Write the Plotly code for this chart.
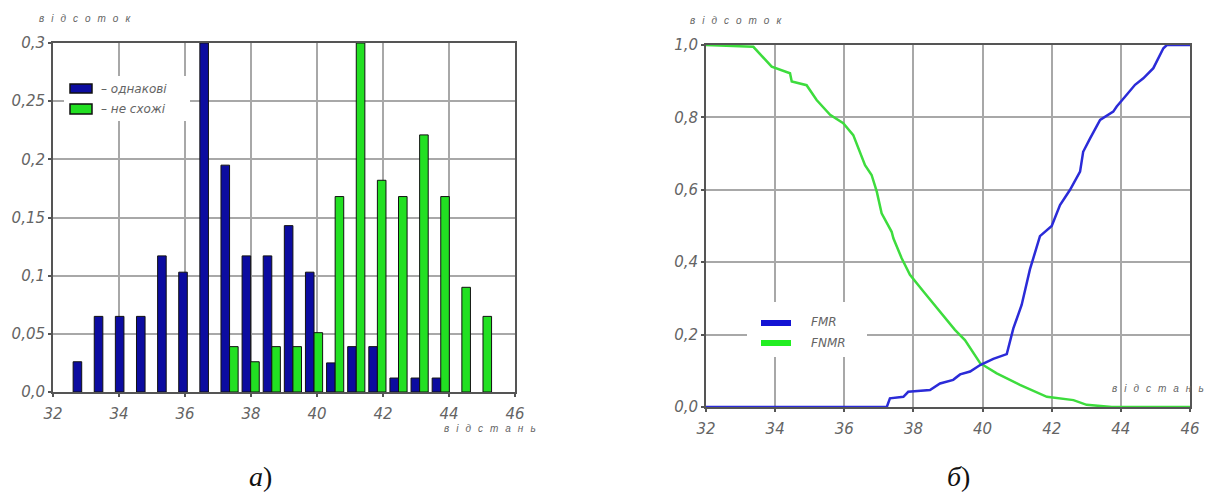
import plotly.graph_objects as go

# ---------------- data ----------------
# left chart (histogram): bin centres and relative frequencies
bin_centers = [32.87, 33.51, 34.15, 34.79, 35.43, 36.07, 36.71, 37.35, 37.99, 38.63,
               39.27, 39.91, 40.55, 41.19, 41.83, 42.47, 43.11, 43.75, 44.39, 45.03]
same_vals = [0.026, 0.065, 0.065, 0.065, 0.117, 0.103, 0.300, 0.195, 0.117, 0.117,
             0.143, 0.103, 0.025, 0.039, 0.039, 0.012, 0.012, 0.012, None, None]
diff_vals = [None, None, None, None, None, None, None, 0.039, 0.026, 0.039,
             0.039, 0.051, 0.168, 0.300, 0.182, 0.168, 0.221, 0.168, 0.090, 0.065]

# right chart: error rate curves
fnmr_x = [32.0, 33.37, 33.9, 34.19, 34.43, 34.48, 34.91, 35.2, 35.59, 35.97, 36.26, 36.6,
          36.79, 36.94, 37.08, 37.37, 37.42, 37.66, 37.9, 38.29, 38.77, 39.2, 39.49, 39.93,
          40.41, 41.08, 41.86, 42.63, 43.01, 43.74, 46.0]
fnmr_y = [1.0, 0.995, 0.94, 0.931, 0.922, 0.899, 0.889, 0.848, 0.807, 0.784, 0.751, 0.668,
          0.641, 0.595, 0.535, 0.484, 0.466, 0.411, 0.365, 0.319, 0.263, 0.213, 0.185, 0.121,
          0.093, 0.061, 0.028, 0.019, 0.006, 0.0, 0.0]
fmr_x = [32.0, 37.23, 37.32, 37.71, 37.85, 38.48, 38.77, 39.15, 39.35, 39.64, 39.93, 40.31,
         40.7, 40.89, 41.13, 41.37, 41.66, 42.0, 42.24, 42.53, 42.82, 42.91, 43.11, 43.4,
         43.78, 43.88, 44.12, 44.41, 44.65, 44.94, 45.23, 45.33, 46.0]
fmr_y = [0.0, 0.0, 0.024, 0.028, 0.042, 0.047, 0.065, 0.075, 0.09, 0.098, 0.116, 0.133,
         0.146, 0.217, 0.282, 0.38, 0.472, 0.5, 0.558, 0.6, 0.65, 0.705, 0.742, 0.793,
         0.816, 0.83, 0.857, 0.89, 0.908, 0.936, 0.991, 1.0, 1.0]

x_ticks = [32, 34, 36, 38, 40, 42, 44, 46]
y1_ticks = [0, 0.05, 0.1, 0.15, 0.2, 0.25, 0.3]
y1_text = ["0,0", "0,05", "0,1", "0,15", "0,2", "0,25", "0,3"]
y2_ticks = [0, 0.2, 0.4, 0.6, 0.8, 1.0]
y2_text = ["0,0", "0,2", "0,4", "0,6", "0,8", "1,0"]

# ---------------- figure ----------------
W, H = 1223, 500
def px(x):
    return x / W
def py(y):
    return 1 - y / H

BLUE_BAR = "#0c0ca0"
GREEN_BAR = "#22e022"
BLUE_LINE = "#2b2bd8"
GREEN_LINE = "#3ddc3d"
TXT = "#646464"
GRID = "#a8a8a8"
AXL = "#555555"
FONT = "DejaVu Sans"

fig = go.Figure()
fig.add_trace(go.Bar(x=bin_centers, y=same_vals, width=0.26, offset=-0.26,
                     marker=dict(color=BLUE_BAR, line=dict(color="#111111", width=1)),
                     xaxis="x", yaxis="y", name="однакові"))
fig.add_trace(go.Bar(x=bin_centers, y=diff_vals, width=0.26, offset=0.0,
                     marker=dict(color=GREEN_BAR, line=dict(color="#111111", width=1)),
                     xaxis="x", yaxis="y", name="не схожі"))
fig.add_trace(go.Scatter(x=fnmr_x, y=fnmr_y, mode="lines",
                         line=dict(color=GREEN_LINE, width=2.5),
                         xaxis="x2", yaxis="y2", name="FNMR"))
fig.add_trace(go.Scatter(x=fmr_x, y=fmr_y, mode="lines",
                         line=dict(color=BLUE_LINE, width=2.5),
                         xaxis="x2", yaxis="y2", name="FMR"))

tickfont = dict(family=FONT, size=15, color=TXT, style="italic")
common_axis = dict(showgrid=True, gridcolor=GRID, gridwidth=1.5, showline=True,
                   linecolor=AXL, linewidth=2, mirror=True, zeroline=False,
                   ticks="outside", ticklen=3, tickwidth=2, tickcolor=AXL,
                   tickfont=tickfont, automargin=False)

fig.update_layout(
    width=W, height=H, margin=dict(l=0, r=0, t=0, b=0, pad=0, autoexpand=False),
    paper_bgcolor="white", plot_bgcolor="white", showlegend=False,
    barmode="overlay",
    xaxis=dict(domain=[px(53), px(515)], range=[32, 46], tickvals=x_ticks,
               anchor="y", ticklabelstandoff=4, **common_axis),
    yaxis=dict(domain=[py(392), py(43)], range=[0, 0.3], tickvals=y1_ticks,
               ticktext=y1_text, anchor="x", **common_axis),
    xaxis2=dict(domain=[px(706), px(1190)], range=[32, 46], tickvals=x_ticks,
                anchor="y2", ticklabelstandoff=4, **common_axis),
    yaxis2=dict(domain=[py(407), py(45)], range=[0, 1.0], tickvals=y2_ticks,
                ticktext=y2_text, anchor="x2", **common_axis),
)

shapes = []
ann = []
small = dict(family="Liberation Sans", size=10, color=TXT, style="italic")
leg = dict(family=FONT, size=12, color=TXT, style="italic")

SP = "\u2002\u2009"
def spaced(word):
    return SP.join(list(word))

# axis captions
ann.append(dict(x=px(37), y=py(18), text=spaced("відсоток"), xanchor="left", yanchor="middle",
                showarrow=False, font=small, xref="paper", yref="paper"))
ann.append(dict(x=px(442), y=py(428), text=spaced("відстань"), xanchor="left", yanchor="middle",
                showarrow=False, font=small, xref="paper", yref="paper"))
ann.append(dict(x=px(688), y=py(20), text=spaced("відсоток"), xanchor="left", yanchor="middle",
                showarrow=False, font=small, xref="paper", yref="paper"))
ann.append(dict(x=px(1110), y=py(388), text=spaced("відстань"), xanchor="left", yanchor="middle",
                showarrow=False, font=small, xref="paper", yref="paper"))

# left legend
shapes.append(dict(type="rect", xref="paper", yref="paper", x0=px(64), x1=px(190),
                   y0=py(76), y1=py(121), fillcolor="white", line=dict(width=0), layer="above"))
shapes.append(dict(type="rect", xref="paper", yref="paper", x0=px(70), x1=px(92),
                   y0=py(84), y1=py(93), fillcolor=BLUE_BAR, line=dict(color="#111", width=1.5),
                   layer="above"))
shapes.append(dict(type="rect", xref="paper", yref="paper", x0=px(70), x1=px(92),
                   y0=py(104), y1=py(114), fillcolor=GREEN_BAR, line=dict(color="#111", width=1.5),
                   layer="above"))
ann.append(dict(x=px(99), y=py(88.5), text="– однакові", xanchor="left", yanchor="middle",
                showarrow=False, font=leg, xref="paper", yref="paper"))
ann.append(dict(x=px(99), y=py(109), text="– не схожі", xanchor="left", yanchor="middle",
                showarrow=False, font=leg, xref="paper", yref="paper"))

# right legend
shapes.append(dict(type="rect", xref="paper", yref="paper", x0=px(747), x1=px(867),
                   y0=py(302), y1=py(357), fillcolor="white", line=dict(width=0), layer="above"))
shapes.append(dict(type="line", xref="paper", yref="paper", x0=px(761), x1=px(791),
                   y0=py(323), y1=py(323), line=dict(color="#1414d4", width=6), layer="above"))
shapes.append(dict(type="line", xref="paper", yref="paper", x0=px(761), x1=px(791),
                   y0=py(343), y1=py(343), line=dict(color="#22ee22", width=6), layer="above"))
ann.append(dict(x=px(809), y=py(322), text="FMR", xanchor="left", yanchor="middle",
                showarrow=False, font=leg, xref="paper", yref="paper"))
ann.append(dict(x=px(809), y=py(343), text="FNMR", xanchor="left", yanchor="middle",
                showarrow=False, font=leg, xref="paper", yref="paper"))

# panel captions
cap = dict(family="Liberation Serif", size=28, color="#111111")
ann.append(dict(x=px(260), y=py(476), text="<i>а</i>)", xanchor="center", yanchor="middle",
                showarrow=False, font=cap, xref="paper", yref="paper"))
ann.append(dict(x=px(958), y=py(476), text="<i>б</i>)", xanchor="center", yanchor="middle",
                showarrow=False, font=cap, xref="paper", yref="paper"))

fig.update_layout(shapes=shapes, annotations=ann)
fig.write_html("out.html")
